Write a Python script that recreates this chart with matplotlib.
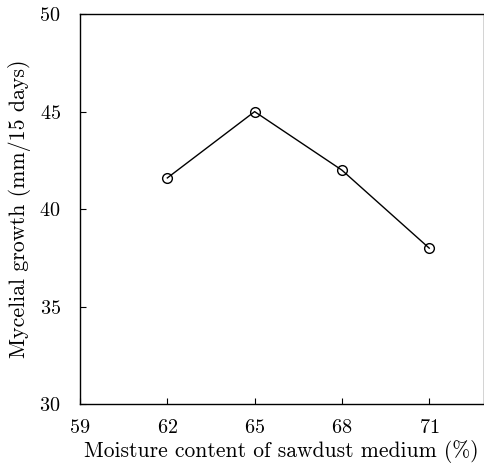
import matplotlib
matplotlib.use('Agg')
import matplotlib.pyplot as plt

plt.rcParams['font.family'] = 'cmr10'
plt.rcParams['axes.formatter.use_mathtext'] = True

moisture = [62, 65, 68, 71]
growth = [41.6, 45.0, 42.0, 38.0]
xticks = [59, 62, 65, 68, 71]
yticks = [30, 35, 40, 45, 50]

fig = plt.figure(figsize=(4.85, 4.7), dpi=100)
ax = fig.add_axes([0.165, 0.14, 0.831, 0.83])

ax.plot(moisture, growth, color='black', lw=1.0, marker='o', ms=7,
        mfc='none', mec='black', mew=1.0)

ax.set_xlim(59, 72.85)
ax.set_ylim(30, 50)
ax.set_xticks(xticks)
ax.set_yticks(yticks)
ax.tick_params(direction='in', length=4, width=0.8, labelsize=14.5)
ax.tick_params(axis='x', pad=11)
ax.tick_params(axis='y', pad=14)
ax.set_xlabel('Moisture content of sawdust medium (%)', fontsize=15.5, labelpad=2)
ax.set_ylabel('Mycelial growth (mm/15 days)', fontsize=15.8, labelpad=6)

ax.spines['right'].set_color('#cccccc')
ax.spines['right'].set_linewidth(0.6)
for s in ['left', 'bottom', 'top']:
    ax.spines[s].set_linewidth(1.0)

fig.savefig('out.png', dpi=100)
